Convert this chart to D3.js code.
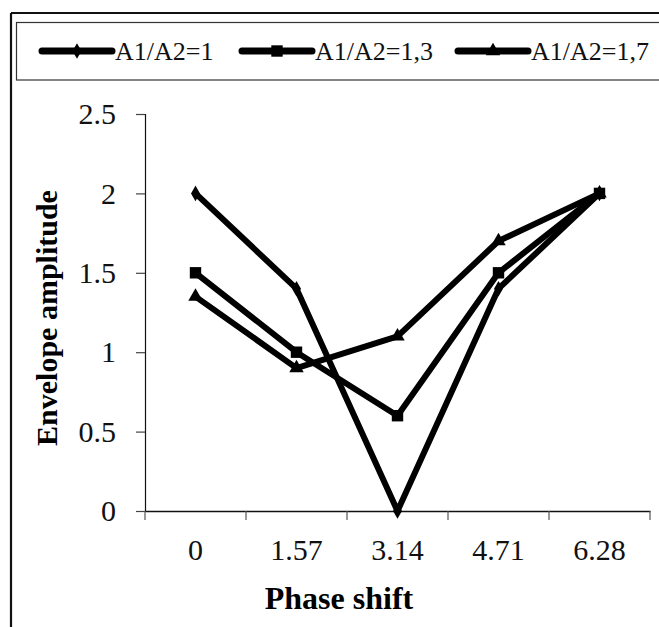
<!DOCTYPE html>
<html>
<head>
<meta charset="utf-8">
<script src="https://cdn.jsdelivr.net/npm/d3@7"></script>
<style>
  html, body { margin: 0; padding: 0; background: #fff; }
  svg { display: block; }
</style>
</head>
<body>
<svg id="chart"></svg>
<script>
const W = 659, H = 627

const phases = ['0', '1.57', '3.14', '4.71', '6.28']
const seriesNames = ['A1/A2=1', 'A1/A2=1,3', 'A1/A2=1,7']
const ratio1 = [2, 1.4, 0, 1.4, 2]
const ratio13 = [1.5, 1.0, 0.6, 1.5, 2]
const ratio17 = [1.35, 0.9, 1.1, 1.7, 2]
const yTicks = [0, 0.5, 1, 1.5, 2, 2.5]

const series = [
    { name: seriesNames[0], values: ratio1, shape: d3.symbolDiamond, size: 70 },
    { name: seriesNames[1], values: ratio13, shape: d3.symbolSquare, size: 130 },
    { name: seriesNames[2], values: ratio17, shape: d3.symbolTriangle, size: 90 }
]

const serif = "'Liberation Serif', serif"

const svg = d3.select('#chart')
    .attr('width', W)
    .attr('height', H)
    .attr('viewBox', '0 0 ' + W + ' ' + H)

// frame
svg.append('line').attr('x1', 11).attr('y1', 13).attr('x2', 11).attr('y2', H)
    .attr('stroke', '#111').attr('stroke-width', 2.2)
svg.append('line').attr('x1', 11).attr('y1', 13).attr('x2', W).attr('y2', 13)
    .attr('stroke', '#111').attr('stroke-width', 2.2)
svg.append('rect').attr('x', 16.5).attr('y', 22.5).attr('width', W).attr('height', 57.5)
    .attr('fill', 'none').attr('stroke', '#333').attr('stroke-width', 1.2)

// scales
const x = d3.scaleBand().domain(phases).range([145, 650]).padding(0)
const y = d3.scaleLinear().domain([0, 2.5]).range([511, 114])

// y axis
const yAxis = svg.append('g')
    .attr('transform', 'translate(145,0)')
    .call(d3.axisLeft(y).tickValues(yTicks).tickSize(9).tickPadding(20)
        .tickFormat(d => d3.format('')(d)))
yAxis.select('.domain').attr('stroke', '#111').attr('stroke-width', 1.2)
yAxis.selectAll('.tick line').attr('stroke', '#444').attr('stroke-width', 1.2)
yAxis.selectAll('.tick text')
    .style('font-family', serif).style('font-size', '30px').attr('fill', '#111')

// x axis
const xAxis = svg.append('g')
    .attr('transform', 'translate(0,511)')
    .call(d3.axisBottom(x).tickSize(0).tickPadding(28))
xAxis.select('.domain').attr('stroke', '#111').attr('stroke-width', 1.4)
xAxis.selectAll('.tick text')
    .style('font-family', serif).style('font-size', '30px').attr('fill', '#111')

// x ticks sit on category boundaries
const bounds = phases.map(p => x(p)).concat([x.range()[1]])
xAxis.selectAll('.bound')
    .data(bounds)
    .enter()
    .append('line')
    .attr('x1', d => d).attr('x2', d => d)
    .attr('y1', 0).attr('y2', 9)
    .attr('stroke', '#555').attr('stroke-width', 1.2)

// axis titles
svg.append('text')
    .attr('x', 339).attr('y', 609)
    .attr('text-anchor', 'middle')
    .style('font-family', serif).style('font-size', '32px').style('font-weight', 'bold')
    .text('Phase shift')

svg.append('text')
    .attr('transform', 'translate(57,318) rotate(-90)')
    .attr('text-anchor', 'middle')
    .style('font-family', serif).style('font-size', '30px').style('font-weight', 'bold')
    .text('Envelope amplitude')

// lines + markers
const line = d3.line()
    .x((d, i) => x(phases[i]) + x.bandwidth() / 2)
    .y(d => y(d))

const g = svg.append('g')

series.forEach(s => {
    g.append('path')
        .attr('d', line(s.values))
        .attr('fill', 'none')
        .attr('stroke', '#000')
        .attr('stroke-width', 6)
        .attr('stroke-linejoin', 'round')

    g.selectAll(null)
        .data(s.values)
        .enter()
        .append('path')
        .attr('d', d3.symbol().type(s.shape).size(s.size))
        .attr('transform', (d, i) => `translate(${x(phases[i]) + x.bandwidth() / 2},${y(d)})`)
        .attr('fill', '#000')
})

// legend
const legendX = [42, 242, 458]
const legend = svg.append('g')

series.forEach((s, i) => {
    const lg = legend.append('g').attr('transform', `translate(${legendX[i]},51)`)
    lg.append('line')
        .attr('x1', 0).attr('x2', 70)
        .attr('stroke', '#000').attr('stroke-width', 7)
        .attr('stroke-linecap', 'round')
    lg.append('path')
        .attr('d', d3.symbol().type(s.shape).size(s.size))
        .attr('transform', 'translate(35,0)')
        .attr('fill', '#000')
    lg.append('text')
        .attr('x', 73).attr('y', 9)
        .style('font-family', serif).style('font-size', '26px')
        .attr('fill', '#111')
        .text(s.name)
})
</script>
</body>
</html>
